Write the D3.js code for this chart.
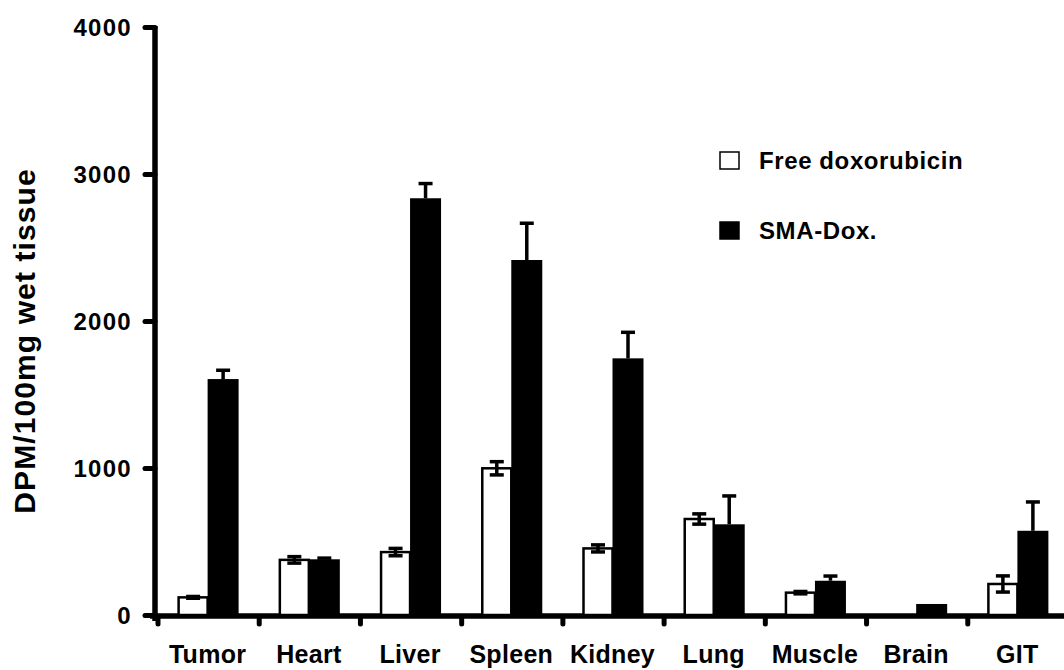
<!DOCTYPE html>
<html>
<head>
<meta charset="utf-8">
<script src="https://cdn.jsdelivr.net/npm/d3@7"></script>
<style>
  html, body { margin: 0; padding: 0; background: #fff; }
  svg { display: block; }
  svg text { font-family: "Liberation Sans", Arial, Helvetica, sans-serif; font-weight: bold; fill: #000; }
</style>
</head>
<body>
<div id="chart"></div>
<script>
// Data
const categories = ["Tumor", "Heart", "Liver", "Spleen", "Kidney", "Lung", "Muscle", "Brain", "GIT"];
const freeDox    = [120, 375, 428, 998, 453, 653, 152, 0, 211];
const freeDoxErr = [6, 22, 25, 45, 24, 35, 8, 0, 55];
const smaDox     = [1605, 379, 2835, 2415, 1746, 617, 233, 75, 573];
const smaDoxErr  = [60, 8, 100, 250, 177, 193, 32, 0, 196];
const yTicks = [0, 1000, 2000, 3000, 4000];
const seriesNames = ["Free doxorubicin", "SMA-Dox."];

const width = 1064, height = 670;
const barW = 29;
const FONT = "Liberation Sans, Arial, Helvetica, sans-serif";

const svg = d3.select("#chart").append("svg")
    .attr("width", width)
    .attr("height", height);

// Scales
const x = d3.scaleBand()
    .domain(categories)
    .range([157, 1068])
    .padding(0);

const y = d3.scaleLinear()
    .domain([0, 4000])
    .range([615, 27]);

// Y axis
const yAxis = svg.append("g")
    .attr("transform", "translate(155,0)")
    .call(d3.axisLeft(y).tickValues(yTicks).tickFormat(d3.format("d")).tickSize(10).tickPadding(13));

yAxis.select(".domain").remove();
yAxis.selectAll(".tick line")
    .attr("stroke", "#000")
    .attr("stroke-width", 5)
    .attr("stroke-linecap", "round");
yAxis.selectAll(".tick text")
    .attr("font-size", 24)
    .attr("letter-spacing", 1.3)
    .attr("font-weight", "bold")
    .attr("font-family", FONT)
    .attr("fill", "#000")
    .attr("dy", "0.36em");

svg.append("line")
    .attr("x1", 155).attr("x2", 155)
    .attr("y1", y(4000) - 1).attr("y2", y(0) + 6)
    .attr("stroke", "#000").attr("stroke-width", 5.5);

// X axis baseline
svg.append("line")
    .attr("x1", 150).attr("x2", width)
    .attr("y1", y(0) + 1).attr("y2", y(0) + 1)
    .attr("stroke", "#000").attr("stroke-width", 5.5);

// X boundary ticks
svg.selectAll(".xtick")
    .data(categories)
    .join("line")
    .attr("class", "xtick")
    .attr("x1", d => x(d) + 1).attr("x2", d => x(d) + 1)
    .attr("y1", y(0) + 2).attr("y2", y(0) + 9)
    .attr("stroke", "#000")
    .attr("stroke-width", 5)
    .attr("stroke-linecap", "round");

// X labels
const xAxis = svg.append("g")
    .attr("transform", `translate(0,${y(0) + 48})`)
    .call(d3.axisBottom(x).tickSize(0).tickPadding(0));
xAxis.select(".domain").remove();
xAxis.selectAll(".tick text")
    .attr("font-size", 25)
    .attr("letter-spacing", 0.3)
    .attr("font-weight", "bold")
    .attr("font-family", FONT)
    .attr("fill", "#000")
    .attr("dy", 0);

// Bars
const cx = d => x(d) + x.bandwidth() / 2;

svg.selectAll(".bar-free")
    .data(categories)
    .join("rect")
    .attr("class", "bar-free")
    .attr("x", d => cx(d) - barW)
    .attr("y", (d, i) => y(freeDox[i]))
    .attr("width", barW)
    .attr("height", (d, i) => y(0) - y(freeDox[i]))
    .attr("fill", "#fff")
    .attr("stroke", (d, i) => freeDox[i] > 0 ? "#000" : "none")
    .attr("stroke-width", 2.5);

svg.selectAll(".bar-sma")
    .data(categories)
    .join("rect")
    .attr("class", "bar-sma")
    .attr("x", d => cx(d))
    .attr("y", (d, i) => y(smaDox[i]))
    .attr("width", barW + 2)
    .attr("height", (d, i) => y(0) - y(smaDox[i]))
    .attr("fill", "#000");

// Error bars
const capW = 7;
const errG = svg.append("g")
    .attr("stroke", "#000")
    .attr("stroke-width", 3.5)
    .attr("fill", "none");

categories.forEach((c, i) => {
    // free doxorubicin: two-sided
    if (freeDoxErr[i] > 0) {
        const ex = cx(c) - barW / 2;
        const lo = y(freeDox[i] - freeDoxErr[i]);
        const hi = y(freeDox[i] + freeDoxErr[i]);
        errG.append("line").attr("x1", ex).attr("x2", ex).attr("y1", lo).attr("y2", hi);
        errG.append("line").attr("x1", ex - capW).attr("x2", ex + capW).attr("y1", lo).attr("y2", lo);
        errG.append("line").attr("x1", ex - capW).attr("x2", ex + capW).attr("y1", hi).attr("y2", hi);
    }
    // SMA-Dox: upper only
    if (smaDoxErr[i] > 0) {
        const ex = cx(c) + barW / 2 + 1;
        const top = y(smaDox[i] + smaDoxErr[i]);
        errG.append("line").attr("x1", ex).attr("x2", ex).attr("y1", y(smaDox[i])).attr("y2", top);
        errG.append("line").attr("x1", ex - capW).attr("x2", ex + capW).attr("y1", top).attr("y2", top);
    }
});

// Y axis title
svg.append("text")
    .attr("transform", `translate(35,341) rotate(-90)`)
    .attr("text-anchor", "middle")
    .attr("font-size", 30)
    .attr("letter-spacing", 1.1)
    .text("DPM/100mg wet tissue");

// Legend
const legend = svg.append("g").attr("transform", "translate(720,152)");
const legendRows = legend.selectAll("g")
    .data(seriesNames)
    .join("g")
    .attr("transform", (d, i) => `translate(0,${i * 70})`);
legendRows.append("rect")
    .attr("x", 0).attr("y", 0)
    .attr("width", 19).attr("height", 17)
    .attr("fill", (d, i) => i === 0 ? "#fff" : "#000")
    .attr("stroke", "#000")
    .attr("stroke-width", 1.5);
legendRows.append("text")
    .attr("x", 39).attr("y", 17)
    .attr("font-size", 24)
    .attr("letter-spacing", 0.6)
    .text(d => d);
</script>
</body>
</html>
